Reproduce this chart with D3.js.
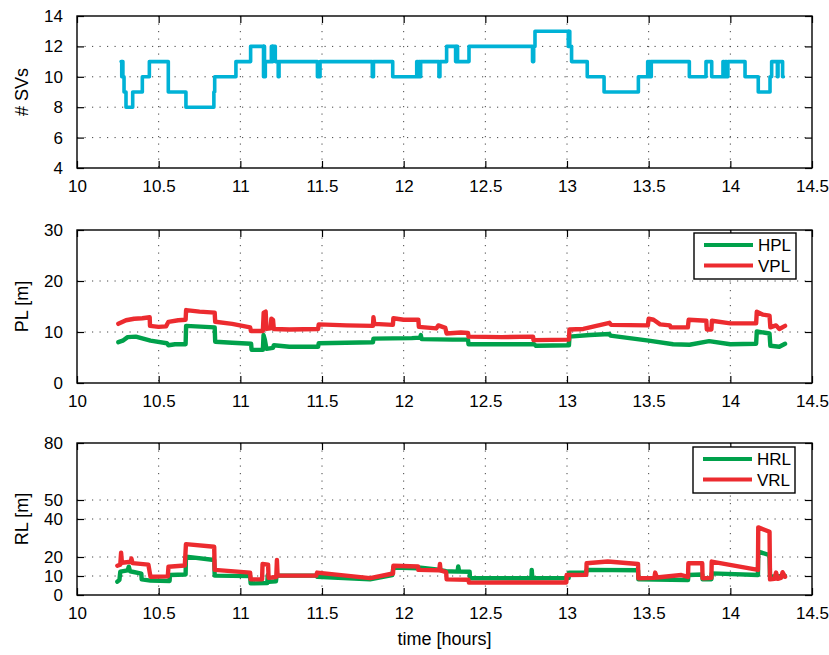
<!DOCTYPE html>
<html>
<head>
<meta charset="utf-8">
<script src="https://cdn.jsdelivr.net/npm/d3@7"></script>
<style>
  html, body { margin: 0; padding: 0; background: #fff; }
  svg { display: block; font-family: "Liberation Sans", Arial, Helvetica, sans-serif; }
</style>
</head>
<body>
<svg id="chart" width="829" height="655"></svg>
<script>
// ---- x axis (time of day, hours) ----
const timeTicks = [10, 10.5, 11, 11.5, 12, 12.5, 13, 13.5, 14, 14.5];
const timeTickLabels = ["10", "10.5", "11", "11.5", "12", "12.5", "13", "13.5", "14", "14.5"];

// ---- number of satellites in view (step series) ----
const svTime = [10.270, 10.274, 10.277, 10.281, 10.288, 10.300, 10.341, 10.400, 10.443, 10.559,
  10.667, 10.838, 10.843, 10.973, 11.063, 11.142, 11.145, 11.148, 11.153, 11.190, 11.196, 11.200,
  11.214, 11.232, 11.237, 11.472, 11.488, 11.808, 11.815, 11.933, 12.080, 12.085, 12.092, 12.098,
  12.104, 12.216, 12.222, 12.263, 12.318, 12.324, 12.330, 12.400, 12.789, 12.796, 12.804, 13.008,
  13.013, 13.017, 13.028, 13.124, 13.227, 13.437, 13.494, 13.498, 13.505, 13.510, 13.516, 13.749,
  13.851, 13.886, 13.955, 13.962, 13.970, 13.977, 13.985, 14.090, 14.171, 14.243, 14.253, 14.288,
  14.292, 14.320, 14.325];
const svCount = [11, 10, 11, 10, 9, 8, 9, 10, 11, 9,
  8, 9, 10, 11, 12, 10, 12, 10, 11, 12, 11, 12,
  11, 10, 11, 10, 11, 10, 11, 10, 11, 10, 11, 10,
  11, 10, 11, 12, 11, 12, 11, 12, 11, 12, 13, 12,
  13, 12, 11, 10, 9, 10, 11, 10, 11, 10, 11, 10,
  11, 10, 11, 10, 11, 10, 11, 10, 9, 10, 11, 10,
  11, 10, 10];
const svTicks = [4, 6, 8, 10, 12, 14];

// ---- protection levels [m] ----
const hplTime = [10.253, 10.28, 10.31, 10.36, 10.45, 10.55, 10.56, 10.60, 10.665, 10.668, 10.843,
  10.846, 10.95, 11.066, 11.069, 11.138, 11.142, 11.15, 11.16, 11.20, 11.205, 11.30, 11.476, 11.48,
  11.812, 11.815, 12.05, 12.10, 12.105, 12.11, 12.30, 12.394, 12.397, 12.80, 12.81, 13.012, 13.015,
  13.14, 13.26, 13.265, 13.50, 13.65, 13.75, 13.87, 14.00, 14.158, 14.162, 14.24, 14.245, 14.30, 14.335];
const hplValue = [8.0, 8.3, 9.0, 9.1, 8.3, 7.8, 7.4, 7.6, 7.6, 11.2, 10.9,
  8.1, 7.9, 7.7, 6.5, 6.5, 9.4, 8.5, 6.7, 6.9, 7.4, 7.1, 7.1, 7.8,
  8.0, 8.7, 8.8, 8.9, 9.4, 8.6, 8.5, 8.5, 7.6, 7.6, 7.3, 7.4, 9.1,
  9.4, 9.6, 9.3, 8.3, 7.6, 7.5, 8.2, 7.6, 7.7, 10.1, 9.7, 7.3, 7.1, 7.7];

const vplTime = [10.253, 10.30, 10.35, 10.40, 10.445, 10.447, 10.50, 10.545, 10.56, 10.62, 10.665,
  10.668, 10.75, 10.843, 10.846, 10.95, 11.06, 11.065, 11.138, 11.143, 11.155, 11.16, 11.185, 11.19,
  11.20, 11.205, 11.30, 11.476, 11.48, 11.65, 11.812, 11.815, 11.82, 11.934, 11.937, 12.00, 12.09,
  12.093, 12.20, 12.212, 12.255, 12.263, 12.35, 12.394, 12.397, 12.60, 12.792, 12.795, 13.012,
  13.015, 13.10, 13.18, 13.26, 13.27, 13.495, 13.50, 13.53, 13.57, 13.63, 13.635, 13.74, 13.745,
  13.853, 13.856, 13.884, 13.887, 14.00, 14.158, 14.162, 14.20, 14.24, 14.245, 14.28, 14.30, 14.335];
const vplValue = [11.6, 12.3, 12.6, 12.7, 12.9, 11.2, 11.0, 11.1, 12.0, 12.3, 12.4,
  14.3, 14.0, 13.8, 12.0, 11.6, 10.9, 10.2, 10.2, 13.8, 14.0, 10.6, 10.7, 12.6,
  12.4, 10.6, 10.5, 10.6, 11.5, 11.3, 11.2, 12.9, 11.6, 11.4, 12.7, 12.4, 12.4,
  11.0, 10.7, 11.3, 10.8, 9.7, 9.9, 9.8, 9.1, 9.0, 9.1, 8.4, 8.5,
  10.5, 10.6, 11.2, 11.8, 11.4, 11.3, 12.6, 12.4, 11.5, 11.3, 10.9, 10.9, 12.4,
  12.2, 10.5, 10.5, 12.2, 11.7, 11.7, 14.0, 13.4, 13.2, 10.9, 11.3, 10.6, 11.2];
const plTicks = [0, 10, 20, 30];

// ---- reference levels [m] ----
const hrlTime = [10.247, 10.26, 10.265, 10.31, 10.317, 10.325, 10.394, 10.396, 10.45, 10.567, 10.569,
  10.665, 10.667, 10.84, 10.843, 11.06, 11.063, 11.165, 11.168, 11.175, 11.218, 11.222, 11.465, 11.47,
  11.794, 11.93, 11.937, 12.088, 12.09, 12.20, 12.26, 12.33, 12.334, 12.34, 12.404, 12.406, 12.782,
  12.784, 12.788, 13.01, 13.012, 13.118, 13.12, 13.435, 13.437, 13.741, 13.743, 13.828, 13.83,
  13.884, 13.886, 14.169, 14.171, 14.24, 14.243, 14.335];
const hrlValue = [7.0, 8.0, 12.3, 13.0, 14.9, 12.5, 11.2, 8.2, 7.6, 7.4, 10.5,
  10.8, 20.2, 18.4, 10.2, 10.0, 6.1, 6.3, 10.5, 7.0, 7.2, 10.2, 10.2, 9.6,
  8.2, 10.5, 14.5, 14.0, 14.5, 13.5, 12.5, 12.3, 15.0, 12.3, 12.2, 8.8, 8.8,
  13.2, 8.8, 8.9, 11.8, 11.8, 13.2, 13.0, 8.2, 7.9, 10.5, 10.8, 8.2,
  8.3, 11.4, 10.5, 22.8, 21.0, 9.6, 10.0];

const vrlTime = [10.247, 10.265, 10.27, 10.275, 10.33, 10.333, 10.34, 10.437, 10.45, 10.556, 10.56,
  10.66, 10.667, 10.84, 10.843, 11.06, 11.063, 11.133, 11.136, 11.17, 11.173, 11.22, 11.224, 11.228,
  11.465, 11.47, 11.794, 11.935, 11.937, 12.088, 12.09, 12.218, 12.222, 12.226, 12.26, 12.263,
  12.396, 12.40, 12.996, 12.998, 13.118, 13.12, 13.25, 13.435, 13.437, 13.535, 13.54, 13.55, 13.70,
  13.741, 13.743, 13.828, 13.83, 13.884, 13.886, 14.169, 14.171, 14.24, 14.243, 14.27, 14.28, 14.29,
  14.31, 14.32, 14.335];
const vrlValue = [15.4, 16.0, 22.3, 17.0, 17.5, 19.2, 16.8, 16.0, 9.6, 9.8, 14.9,
  15.5, 26.8, 25.4, 13.2, 11.8, 8.2, 8.2, 16.3, 16.0, 9.0, 9.5, 18.4, 10.2,
  10.2, 11.8, 8.9, 11.3, 15.4, 15.0, 13.2, 13.0, 16.3, 13.0, 12.0, 8.2,
  8.0, 6.5, 6.6, 10.5, 10.6, 16.7, 17.6, 16.3, 8.8, 9.0, 11.8, 9.2, 10.5,
  9.5, 16.7, 16.7, 8.8, 9.0, 17.6, 13.2, 35.6, 33.3, 8.2, 8.5, 11.8, 8.5,
  9.0, 12.0, 9.6];
const rlTicks = [0, 10, 20, 40, 50, 80];

// ---- colours ----
const colSV = "#00b2d6";
const colH = "#00a14b";
const colV = "#ec2b2f";

const svg = d3.select("#chart");
const left = 77, right = 812;
const x = d3.scaleLinear().domain([10, 14.5]).range([left, right]);

function zip(ts, vs) { return ts.map((t, i) => ({ t: t, v: vs[i] })); }

function panel(cfg) {
  const y = d3.scaleLinear().domain(cfg.domain).range([cfg.bottom, cfg.top]);
  const g = svg.append("g");

  // dotted grid
  const grid = g.append("g").attr("stroke", "#444").attr("stroke-width", 1)
    .attr("stroke-dasharray", "1.2,6.3");
  timeTicks.slice(1, -1).forEach(t => {
    grid.append("line").attr("x1", x(t)).attr("x2", x(t))
      .attr("y1", cfg.top).attr("y2", cfg.bottom);
  });
  cfg.ticks.slice(1, -1).forEach(v => {
    grid.append("line").attr("x1", left).attr("x2", right)
      .attr("y1", y(v)).attr("y2", y(v));
  });

  // series
  const clipId = "clip" + cfg.id;
  svg.append("clipPath").attr("id", clipId).append("rect")
    .attr("x", left).attr("y", cfg.top).attr("width", right - left).attr("height", cfg.bottom - cfg.top);
  const lines = g.append("g").attr("clip-path", "url(#" + clipId + ")");
  cfg.series.forEach(s => {
    const gen = d3.line().x(d => x(d.t)).y(d => y(d.v)).curve(s.curve || d3.curveLinear);
    lines.append("path").datum(s.data)
      .attr("fill", "none").attr("stroke", s.color).attr("stroke-width", s.width)
      .attr("stroke-linejoin", "round").attr("stroke-linecap", "round")
      .attr("d", gen);
  });

  // axes: MATLAB-style box with inward ticks on all sides
  const tl = 7;
  const axBottom = d3.axisBottom(x).tickValues(timeTicks).tickSizeInner(-tl).tickSizeOuter(0)
    .tickPadding(12).tickFormat((d, i) => timeTickLabels[i]);
  const axTop = d3.axisTop(x).tickValues(timeTicks).tickSizeInner(-tl).tickSizeOuter(0).tickFormat("");
  const axLeft = d3.axisLeft(y).tickValues(cfg.ticks).tickSizeInner(-tl).tickSizeOuter(0)
    .tickPadding(14).tickFormat(d3.format("d"));
  const axRight = d3.axisRight(y).tickValues(cfg.ticks).tickSizeInner(-tl).tickSizeOuter(0).tickFormat("");

  const styleAxis = sel => {
    sel.select(".domain").remove();
    sel.selectAll("line").attr("stroke", "#000").attr("stroke-width", 1.2);
    sel.selectAll("text").attr("fill", "#000").attr("font-size", 17)
      .attr("font-family", "'Liberation Sans', Arial, Helvetica, sans-serif");
  };
  g.append("g").attr("transform", `translate(0,${cfg.bottom})`).call(axBottom).call(styleAxis);
  g.append("g").attr("transform", `translate(0,${cfg.top})`).call(axTop).call(styleAxis);
  g.append("g").attr("transform", `translate(${left},0)`).call(axLeft).call(styleAxis);
  g.append("g").attr("transform", `translate(${right},0)`).call(axRight).call(styleAxis);

  g.append("rect").attr("x", left).attr("y", cfg.top).attr("width", right - left)
    .attr("height", cfg.bottom - cfg.top).attr("fill", "none").attr("stroke", "#000").attr("stroke-width", 1.4);

  // y axis title
  g.append("text").attr("transform", `translate(28,${(cfg.top + cfg.bottom) / 2}) rotate(-90)`)
    .attr("text-anchor", "middle").attr("font-size", 18).text(cfg.ylabel);

  // legend
  if (cfg.legend) {
    const L = cfg.legend;
    const lg = g.append("g");
    lg.append("rect").attr("x", L.x).attr("y", L.y).attr("width", 102).attr("height", 46)
      .attr("fill", "#fff").attr("stroke", "#000").attr("stroke-width", 1.4);
    L.items.forEach((it, i) => {
      const yy = L.y + 12 + i * 20.5;
      lg.append("line").attr("x1", L.x + 10).attr("x2", L.x + 59).attr("y1", yy).attr("y2", yy)
        .attr("stroke", it.color).attr("stroke-width", 3.8);
      lg.append("text").attr("x", L.x + 64).attr("y", yy + 6.3).attr("font-size", 17).text(it.label);
    });
  }
}

panel({
  id: "sv", top: 16, bottom: 168, domain: [4, 14], ticks: svTicks, ylabel: "# SVs",
  series: [{ data: zip(svTime, svCount), color: colSV, width: 3.6, curve: d3.curveStepAfter }]
});

panel({
  id: "pl", top: 230, bottom: 383, domain: [0, 30], ticks: plTicks, ylabel: "PL [m]",
  series: [
    { data: zip(hplTime, hplValue), color: colH, width: 4.4 },
    { data: zip(vplTime, vplValue), color: colV, width: 4.4 }
  ],
  legend: { x: 694, y: 233, items: [{ label: "HPL", color: colH }, { label: "VPL", color: colV }] }
});

panel({
  id: "rl", top: 443, bottom: 595, domain: [0, 80], ticks: rlTicks, ylabel: "RL [m]",
  series: [
    { data: zip(hrlTime, hrlValue), color: colH, width: 4.4 },
    { data: zip(vrlTime, vrlValue), color: colV, width: 4.4 }
  ],
  legend: { x: 693, y: 447, items: [{ label: "HRL", color: colH }, { label: "VRL", color: colV }] }
});

svg.append("text").attr("x", (left + right) / 2).attr("y", 645).attr("text-anchor", "middle")
  .attr("font-size", 18).text("time [hours]");
</script>
</body>
</html>
